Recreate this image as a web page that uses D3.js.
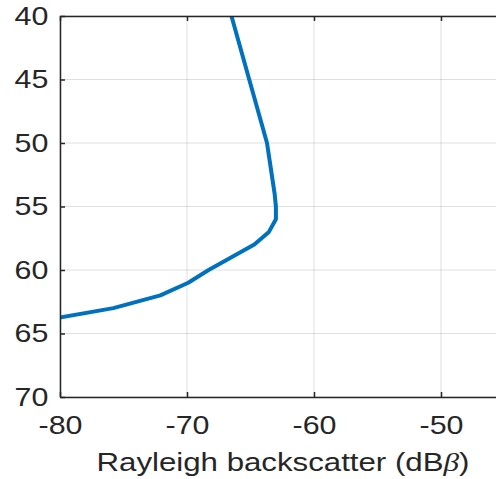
<!DOCTYPE html>
<html lang="en">
  <head>
    <meta charset="UTF-8">
    <title>Rayleigh backscatter</title>
    <style>
      body { margin: 0; background: #fff; }
      svg { display: block; }
      .tick text { font-family: "Liberation Sans", Arial, sans-serif; font-size: 26px; fill: #262626; }
    </style>
  </head>
  <body>
    <div id="chart-container"></div>
    <script src="https://d3js.org/d3.v7.min.js"></script>
    <script>
      // depth values (y) and backscatter (x)
      const depths = [40, 45, 50, 51, 52, 53, 54, 55, 56, 57, 58, 59, 60, 61, 62, 63, 64];
      const backscatter = [-66.5, -65.1, -63.7, -63.55, -63.4, -63.25, -63.1, -63.0, -63.0, -63.55, -64.7, -66.5, -68.3, -69.9, -72.1, -75.8, -81.5];
      const xTicks = [-80, -70, -60, -50];
      const yTicks = [40, 45, 50, 55, 60, 65, 70];

      const data = depths.map((d, i) => ({ depth: d, val: backscatter[i] }));

      const W = 496, H = 479;
      const margin = { top: 16, left: 60 };
      const plotH = 381;
      const plotW = 508; // extends past the window edge (domain -80..-40)
      const stretch = 1.17; // the reference text is a bit wider than Arial

      const svg = d3.select("#chart-container")
        .append("svg")
        .attr("width", W)
        .attr("height", H);

      const g = svg.append("g")
        .attr("transform", "translate(" + margin.left + "," + margin.top + ")");

      const x = d3.scaleLinear().domain([-80, -40]).range([0, plotW]);
      const y = d3.scaleLinear().domain([40, 70]).range([0, plotH]);

      // grid
      g.append("g")
        .selectAll("line")
        .data(xTicks)
        .join("line")
        .attr("x1", d => x(d)).attr("x2", d => x(d))
        .attr("y1", 0).attr("y2", plotH)
        .attr("stroke", "#262626").attr("stroke-opacity", 0.15).attr("stroke-width", 1);
      g.append("g")
        .selectAll("line")
        .data(yTicks)
        .join("line")
        .attr("x1", 0).attr("x2", plotW)
        .attr("y1", d => y(d)).attr("y2", d => y(d))
        .attr("stroke", "#262626").attr("stroke-opacity", 0.15).attr("stroke-width", 1);

      // clip for the curve
      svg.append("defs").append("clipPath").attr("id", "clip")
        .append("rect").attr("width", plotW).attr("height", plotH);

      const line = d3.line()
        .x(d => x(d.val))
        .y(d => y(d.depth));

      g.append("path")
        .datum(data)
        .attr("clip-path", "url(#clip)")
        .attr("fill", "none")
        .attr("stroke", "#0072BD")
        .attr("stroke-width", 4)
        .attr("stroke-linejoin", "round")
        .attr("d", line);

      // axes (ticks point inward, MATLAB style)
      const xAxis = g.append("g")
        .attr("transform", "translate(0," + plotH + ")")
        .call(d3.axisBottom(x).tickValues(xTicks).tickSizeInner(-5).tickSizeOuter(0).tickPadding(19).tickFormat(d3.format("d")));
      const xTop = g.append("g")
        .call(d3.axisTop(x).tickValues(xTicks).tickSizeInner(-5).tickSizeOuter(0).tickFormat(""));
      const yAxis = g.append("g")
        .call(d3.axisLeft(y).tickValues(yTicks).tickSizeInner(-5).tickSizeOuter(0).tickPadding(10));

      [xAxis, xTop, yAxis].forEach(a => {
        a.select(".domain").attr("stroke", "#262626").attr("stroke-width", 1.5);
        a.selectAll(".tick line").attr("stroke", "#262626").attr("stroke-width", 1.5);
        a.selectAll(".tick text").attr("transform", "scale(" + stretch + ",1)");
      });
      xAxis.selectAll(".tick text").text(d => d < 0 ? "-" + Math.abs(d) : d);

      // X axis label
      const lab = svg.append("text")
        .attr("x", 283)
        .attr("y", 471)
        .attr("text-anchor", "middle")
        .attr("textLength", 373)
        .attr("lengthAdjust", "spacingAndGlyphs")
        .style("font-family", "Liberation Sans, Arial, sans-serif")
        .style("font-size", "26px")
        .style("fill", "#262626");
      lab.append("tspan").text("Rayleigh backscatter (dB");
      lab.append("tspan").style("font-family", "Liberation Serif, Times New Roman, serif").style("font-style", "italic").text("β");
      lab.append("tspan").text(")");
    </script>
  </body>
</html>
